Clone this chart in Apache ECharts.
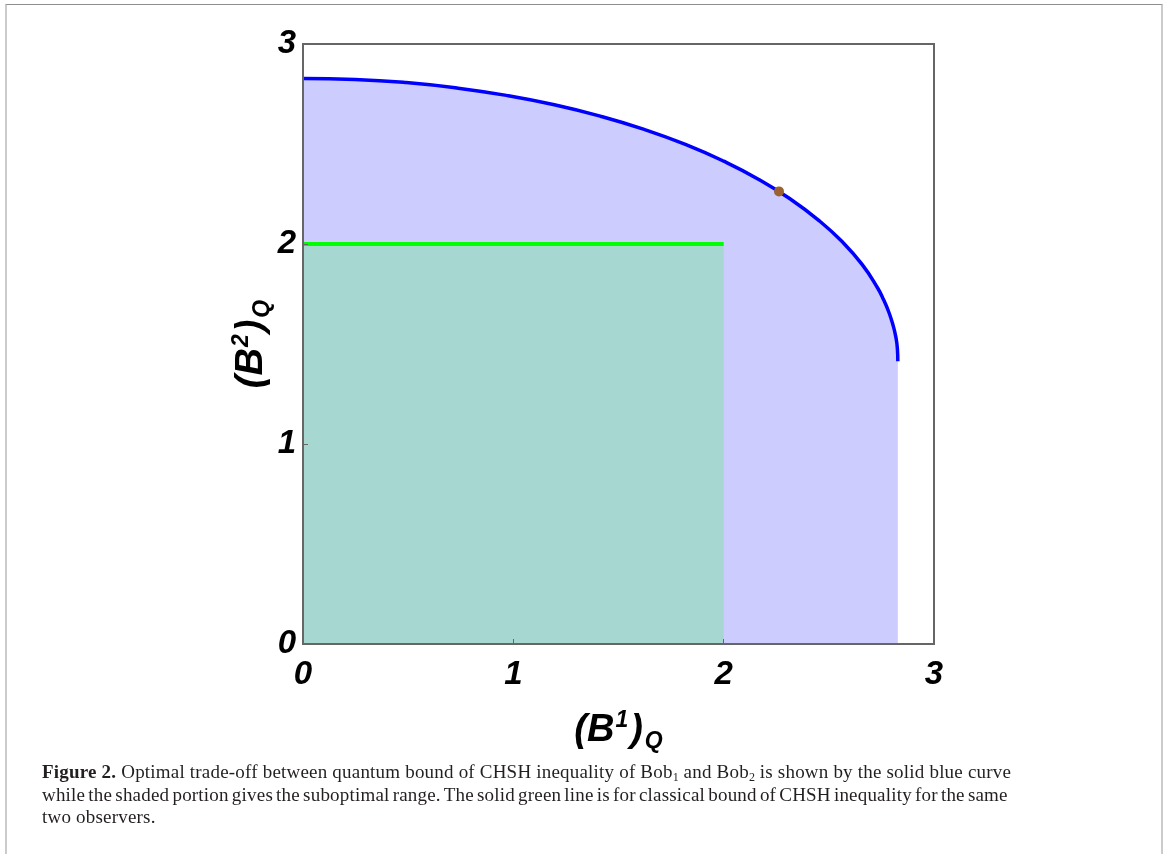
<!DOCTYPE html>
<html>
<head>
<meta charset="utf-8">
<script src="https://cdn.jsdelivr.net/npm/echarts@6/dist/echarts.min.js"></script>
<style>
    html, body { margin: 0; padding: 0; background: #fff; }
    #frame {
        position: absolute; left: 5px; top: 4px; width: 1154px; height: 860px;
        border-top: 1px solid #8e8e8e;
        border-left: 2px solid #cbcbcb;
        border-right: 2px solid #cbcbcb;
    }
    #main { position: absolute; left: 0; top: 0; width: 1165px; height: 854px; }
    #caption {
        position: absolute; left: 42px; top: 761px;
        font-family: "Liberation Serif", "DejaVu Serif", serif;
        font-size: 19px; letter-spacing: 0.2px; line-height: 22.5px; color: #231f20;
        white-space: nowrap;
    }
    #caption sub { font-size: 12px; line-height: 0; vertical-align: -3px; letter-spacing: 0; }
    #caption .l2 { word-spacing: -1.8px; }
</style>
</head>
<body>
<div id="frame"></div>
<div id="main"></div>
<div id="caption"><b>Figure 2.</b> Optimal trade-off between quantum bound of CHSH inequality of Bob<sub>1</sub> and Bob<sub>2</sub> is shown by the solid blue curve<br><span class="l2">while the shaded portion gives the suboptimal range. The solid green line is for classical bound of CHSH inequality for the same</span><br>two observers.</div>
<script>
// 量子界曲线 (B1, B2)
const quantumB1 = [0.000, 0.247, 0.491, 0.732, 0.967, 1.195, 1.414, 1.622, 1.818, 2.000, 2.167,
    2.317, 2.449, 2.563, 2.658, 2.732, 2.761, 2.785, 2.804, 2.818, 2.826, 2.828];
const quantumB2 = [2.828, 2.823, 2.807, 2.780, 2.743, 2.696, 2.639, 2.573, 2.498, 2.414, 2.323,
    2.225, 2.121, 2.012, 1.898, 1.780, 1.720, 1.660, 1.599, 1.538, 1.476, 1.414];
// 经典界
const classicalB1 = [0, 2];
const classicalB2 = [2, 2];
// 对称点
const pointB1 = [2.263];
const pointB2 = [2.263];
const tickLabels = ['0', '1', '2', '3'];

const initChart = function(id) {
    let myChart = echarts.init(document.getElementById(id));

    let quantumData = [];
    for (let i = 0; i < quantumB1.length; i++) {
        quantumData.push([quantumB1[i], quantumB2[i]]);
    }
    let classicalData = [];
    for (let i = 0; i < classicalB1.length; i++) {
        classicalData.push([classicalB1[i], classicalB2[i]]);
    }
    let pointData = [];
    for (let i = 0; i < pointB1.length; i++) {
        pointData.push([pointB1[i], pointB2[i]]);
    }

    const tickStyle = {
        color: '#000',
        fontSize: 33,
        fontWeight: 'bold',
        fontStyle: 'italic',
        fontFamily: 'Liberation Sans'
    };
    const nameRich = {
        m: { fontSize: 38, fontWeight: 'bold', fontStyle: 'italic', fontFamily: 'Liberation Sans', color: '#000', lineHeight: 44 },
        sup: { fontSize: 23, fontWeight: 'bold', fontStyle: 'italic', fontFamily: 'Liberation Sans', color: '#000', lineHeight: 26, verticalAlign: 'top', padding: [0, 2, 0, 1] },
        sub: { fontSize: 23, fontWeight: 'bold', fontStyle: 'italic', fontFamily: 'Liberation Sans', color: '#000', lineHeight: 15, verticalAlign: 'bottom', padding: [0, 0, 0, 2] }
    };

    let option = {
        animation: false,
        grid: {
            left: 303,
            top: 44,
            width: 631,
            height: 600,
            show: true,
            borderColor: '#666',
            borderWidth: 2,
            containLabel: false
        },
        xAxis: {
            type: 'value',
            min: 0,
            max: 3,
            interval: 1,
            z: 10,
            name: '{m|(B}{sup|1}{m|)}{sub|Q}',
            nameLocation: 'middle',
            nameGap: 65,
            nameMoveOverlap: false,
            nameTextStyle: { rich: nameRich },
            axisLine: { show: true, lineStyle: { color: '#666', width: 2 } },
            axisTick: { show: true, inside: true, length: 5, lineStyle: { color: '#666', width: 1 } },
            axisLabel: Object.assign({ margin: 14, formatter: function(v) { return tickLabels[v]; } }, tickStyle),
            splitLine: { show: false }
        },
        yAxis: {
            type: 'value',
            min: 0,
            max: 3,
            interval: 1,
            z: 10,
            name: '{m|(B}{sup|2}{m|)}{sub|Q}',
            nameLocation: 'middle',
            nameRotate: 90,
            nameGap: 29,
            nameMoveOverlap: false,
            nameTextStyle: { rich: nameRich },
            axisLine: { show: true, lineStyle: { color: '#666', width: 2 } },
            axisTick: { show: true, inside: true, length: 5, lineStyle: { color: '#666', width: 1 } },
            axisLabel: Object.assign({ margin: 7, formatter: function(v) { return tickLabels[v]; } }, tickStyle),
            splitLine: { show: false }
        },
        series: [{
            name: 'quantum',
            type: 'line',
            data: quantumData,
            showSymbol: false,
            smooth: true,
            lineStyle: { color: '#0000ff', width: 3.5 },
            areaStyle: { color: '#ccccff', opacity: 1 },
            z: 2
        }, {
            name: 'classical',
            type: 'line',
            data: classicalData,
            showSymbol: false,
            lineStyle: { color: '#00ff00', width: 4 },
            areaStyle: { color: '#a6d7d0', opacity: 1 },
            z: 3
        }, {
            name: 'point',
            type: 'scatter',
            data: pointData,
            symbolSize: 10,
            itemStyle: { color: '#9c6130', opacity: 1 },
            z: 4
        }]
    };

    myChart.setOption(option);
};

initChart('main');
</script>
</body>
</html>
